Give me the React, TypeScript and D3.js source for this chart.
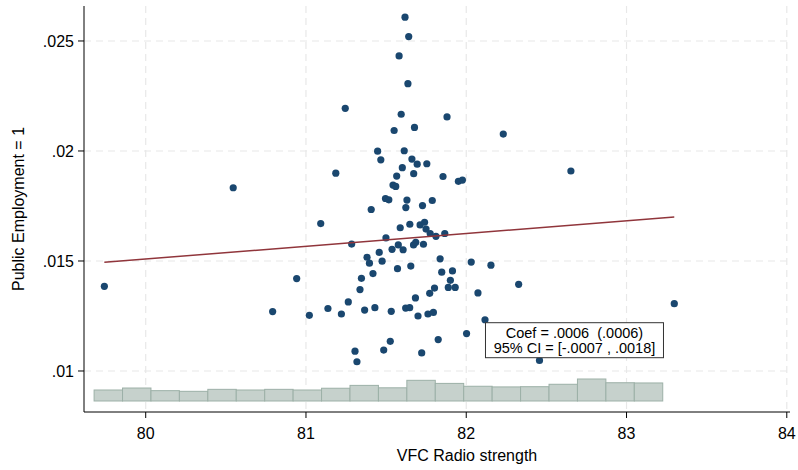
import React from "react";
import * as d3 from "d3";

const W = 798;
const H = 470;

// Scatter points: VFC Radio strength (x) vs Public Employment = 1 (y)
const pointX = [
  79.742, 80.546, 80.792, 80.942, 81.021, 81.092, 81.137, 81.186, 81.221, 81.245,
  81.264, 81.285, 81.306, 81.318, 81.337, 81.346, 81.366, 81.381, 81.396, 81.407,
  81.418, 81.43, 81.447, 81.457, 81.467, 81.475, 81.485, 81.496, 81.517, 81.499,
  81.526, 81.532, 81.537, 81.543, 81.56, 81.55, 81.566, 81.571, 81.576, 81.581,
  81.588, 81.594, 81.601, 81.606, 81.613, 81.618, 81.623, 81.622, 81.63, 81.636,
  81.641, 81.647, 81.648, 81.654, 81.661, 81.671, 81.672, 81.677, 81.685, 81.683,
  81.694, 81.699, 81.712, 81.722, 81.727, 81.733, 81.74, 81.749, 81.754, 81.761,
  81.772, 81.775, 81.788, 81.795, 81.802, 81.811, 81.825, 81.837, 81.847, 81.855,
  81.866, 81.88, 81.888, 81.901, 81.914, 81.931, 81.951, 81.976, 82.002, 82.031,
  82.073, 82.117, 82.154, 82.231, 82.327, 82.457, 82.653, 83.298,
];
const pointY = [
  0.01385, 0.01833, 0.0127, 0.0142, 0.01253, 0.0167, 0.01284, 0.01899, 0.01259, 0.02194,
  0.01314, 0.01577, 0.0109, 0.01042, 0.0137, 0.01421, 0.01277, 0.01517, 0.0149, 0.01734,
  0.01443, 0.01288, 0.01999, 0.01539, 0.0196, 0.01499, 0.01095, 0.01784, 0.01778, 0.01605,
  0.01135, 0.01271, 0.01553, 0.01845, 0.01839, 0.02093, 0.01886, 0.01465, 0.01573, 0.02432,
  0.01651, 0.02167, 0.01924, 0.01551, 0.02001, 0.02608, 0.01743, 0.01286, 0.01777, 0.02306,
  0.0252, 0.01288, 0.01667, 0.01477, 0.01963, 0.01573, 0.01897, 0.02107, 0.01585, 0.01332,
  0.0194, 0.0125, 0.01664, 0.01082, 0.01752, 0.01576, 0.01676, 0.01645, 0.01942, 0.01259,
  0.01353, 0.01625, 0.01775, 0.01266, 0.01377, 0.01612, 0.01143, 0.0151, 0.01449, 0.01884,
  0.01625, 0.02155, 0.0138, 0.01412, 0.01455, 0.0138, 0.01862, 0.01868, 0.0117, 0.01495,
  0.01355, 0.01233, 0.01481, 0.02077, 0.01394, 0.01048, 0.01909, 0.01306,
];

// Linear fit endpoints
const fitX = [79.742, 83.298];
const fitY = [0.01494, 0.017];

// Histogram of x (relative heights)
const histStart = 79.678;
const histBinWidth = 0.1774;
const histHeights = [
  0.5, 0.59, 0.47, 0.44, 0.53, 0.5, 0.53, 0.5, 0.58, 0.71,
  0.6, 0.94, 0.8, 0.67, 0.64, 0.65, 0.76, 1.0, 0.83, 0.82,
];
const histBase = 0.008636;
const histUnit = 0.001;

const xTicks = [80, 81, 82, 83, 84];
const yTicks = [0.01, 0.015, 0.02, 0.025];
const yTickLabels = [".01", ".015", ".02", ".025"];

const annotationLines = ["Coef = .0006  (.0006)", "95% CI = [-.0007 , .0018]"];
const annotationPos = [82.12, 0.012195];
const xTitle = "VFC Radio strength";
const yTitle = "Public Employment = 1";

export default function App() {
  const left = 84, right = 790, top = 6, bottom = 412;
  const x = d3.scaleLinear().domain([79.615, 84.02]).range([left, right]);
  const y = d3.scaleLinear().domain([0.008136, 0.02659]).range([bottom, top]);
  const font = "'Liberation Sans', Arial, sans-serif";
  const gridColor = "#e8e8e8";
  const line = d3.line<number>().x((d, i) => x(fitX[i])).y((d) => y(d));
  const ax = x(annotationPos[0]);
  const ay = y(annotationPos[1]);

  return (
    <svg
      width={W}
      height={H}
      style={{ position: "absolute", left: 0, top: 0, background: "#fff" }}
      fontFamily={font}
    >
      <rect x={0} y={0} width={W} height={H} fill="#fff" />
      {/* grid */}
      {yTicks.map((t) => (
        <line key={"gy" + t} x1={left} x2={right} y1={y(t)} y2={y(t)} stroke={gridColor} strokeWidth={1.2} strokeDasharray="7,5" />
      ))}
      {xTicks.map((t) => (
        <line key={"gx" + t} x1={x(t)} x2={x(t)} y1={top} y2={bottom} stroke={gridColor} strokeWidth={1.2} strokeDasharray="7,5" />
      ))}
      {/* histogram */}
      {histHeights.map((h, i) => {
        const x0 = x(histStart + i * histBinWidth);
        const x1 = x(histStart + (i + 1) * histBinWidth);
        const yt = y(histBase + h * histUnit);
        const yb = y(histBase);
        return (
          <rect key={"h" + i} x={x0} y={yt} width={x1 - x0} height={yb - yt} fill="#c6d1cc" stroke="#9cb0a7" strokeWidth={1} />
        );
      })}
      {/* points */}
      {pointX.map((px, i) => (
        <circle key={"p" + i} cx={x(px)} cy={y(pointY[i])} r={3.6} fill="#1a476f" />
      ))}
      {/* fit line */}
      <path d={line(fitY) || ""} fill="none" stroke="#90353b" strokeWidth={1.5} />
      {/* annotation */}
      <g>
        <rect x={ax} y={ay} width={178} height={35} fill="#fff" stroke="#333" strokeWidth={1} />
        {annotationLines.map((s, i) => (
          <text key={"a" + i} x={ax + 89} y={ay + 15 + i * 15.5} textAnchor="middle" fontSize={14.5} fill="#000" style={{ whiteSpace: "pre" }}>
            {s}
          </text>
        ))}
      </g>
      {/* axes */}
      <line x1={left} x2={left} y1={top} y2={bottom} stroke="#000" strokeWidth={1} />
      <line x1={left} x2={right} y1={bottom} y2={bottom} stroke="#000" strokeWidth={1} />
      {yTicks.map((t, i) => (
        <g key={"yt" + t}>
          <line x1={left - 6} x2={left} y1={y(t)} y2={y(t)} stroke="#000" />
          <text x={left - 10} y={y(t)} dy="0.36em" textAnchor="end" fontSize={16} fill="#000">
            {yTickLabels[i]}
          </text>
        </g>
      ))}
      {xTicks.map((t) => (
        <g key={"xt" + t}>
          <line x1={x(t)} x2={x(t)} y1={bottom} y2={bottom + 6} stroke="#000" />
          <text x={x(t)} y={bottom + 27} textAnchor="middle" fontSize={16} fill="#000">
            {t}
          </text>
        </g>
      ))}
      <text x={(left + right) / 2 + 30} y={461} textAnchor="middle" fontSize={16} fill="#000">
        {xTitle}
      </text>
      <text transform={`translate(24, ${(top + bottom) / 2}) rotate(-90)`} textAnchor="middle" fontSize={16} fill="#000">
        {yTitle}
      </text>
    </svg>
  );
}
